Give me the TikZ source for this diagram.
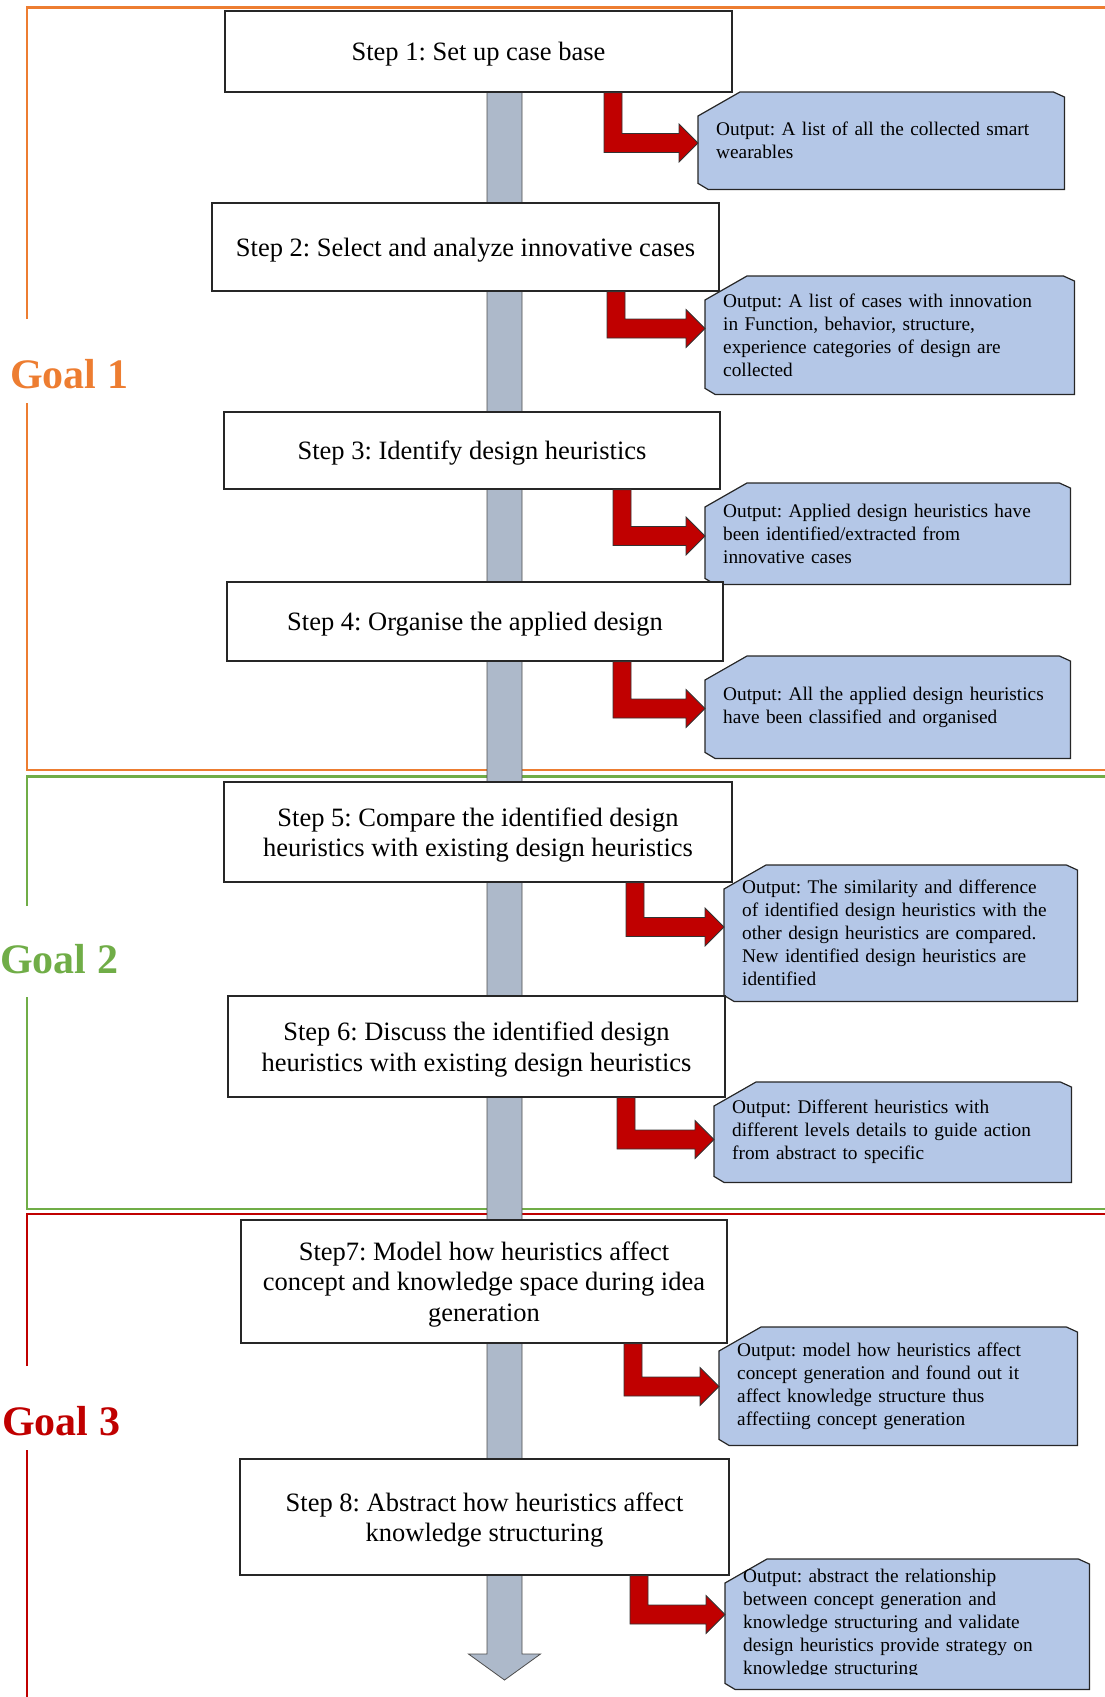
\documentclass[tikz,border=0pt]{standalone}
\usepackage{fontspec}
\setmainfont{Liberation Serif}
\usetikzlibrary{calc,backgrounds}
\frenchspacing

\definecolor{goalorange}{HTML}{ED7D31}
\definecolor{goalgreen}{HTML}{70AD47}
\definecolor{goalred}{HTML}{C00000}
\definecolor{flowgray}{HTML}{ADB9CA}
\definecolor{outblue}{HTML}{B4C7E7}

\newcommand\outshape[1]{%
  \begin{scope}[on background layer]
    \draw[outline] ($(#1.north west)+(0,24)$) -- ($(#1.north west)+(42,0)$)
      -- ($(#1.north east)+(-11,0)$) -- ($(#1.north east)+(0,5)$)
      -- (#1.south east) -- ($(#1.south west)+(10,0)$)
      -- ($(#1.south west)+(0,-6)$) -- cycle;
  \end{scope}}

\newcommand\outarrow[4]{%
  \coordinate (v) at (#2,#4);
  \coordinate (h) at (#3.west |- v);
  \draw[bent] (v |- #1.south) -- ($(v |- #1.south)+(18,0)$) -- ($(v)+(18,-9.5)$)
    -- ($(h)+(-19,-9.5)$) -- ($(h)+(-19,-19)$) -- (h) -- ($(h)+(-19,19)$)
    -- ($(h)+(-19,9.5)$) -- ($(v)+(0,9.5)$) -- cycle;}

\begin{document}
\begin{tikzpicture}
[x=1pt,y=-1pt,
  stepbox/.style={draw=black!85,fill=white,line width=1.2pt,align=center,inner sep=0pt,%
    text depth=-3pt,font=\fontsize{26.5}{30.5}\selectfont},%
  outbox/.style={align=left,inner xsep=18pt,inner ysep=0pt,anchor=north west,%
    font=\fontsize{19.3}{23}\selectfont},%
  boxsize/.style 2 args={minimum width=#1pt,minimum height=#2pt},%
  outline/.style={draw=black!85,fill=outblue,line width=1.2pt},%
  bent/.style={draw=black!80,fill=goalred,line width=0.8pt},%
  flow/.style={draw=black!70,fill=flowgray,line width=0.8pt},%
  goal/.style={anchor=base west,inner sep=0pt,font=\fontsize{42}{48}\selectfont\bfseries},%
  frame/.style={line width=2.7pt}]
\useasboundingbox (0,0) rectangle (1105,1697);

\draw[frame,goalorange] (27,319) -- (27,7.6) -- (1110,7.6);
\draw[frame,goalorange] (27,403) -- (27,770) -- (1110,770);
\draw[frame,goalgreen] (27,906) -- (27,776.7) -- (1110,776.7);
\draw[frame,goalgreen] (27,997) -- (27,1209) -- (1110,1209);
\draw[frame,goalred] (27,1366) -- (27,1214) -- (1110,1214);
\draw[frame,goalred] (27,1450) -- (27,1700);

\node[goal,text=goalorange] (g1) at (10,388) {Goal 1};
\node[goal,text=goalgreen] (g2) at (0,973) {Goal 2};
\node[goal,text=goalred] (g3) at (2,1435) {Goal 3};

\coordinate (tip) at (504.5,1680);
\coordinate (top) at (504.5,92);
\draw[flow] ($(top)+(-17.5,0)$) -- ($(tip)+(-17.5,-26)$) -- ($(tip)+(-36,-26)$) -- (tip)
  -- ($(tip)+(36,-26)$) -- ($(tip)+(17.5,-26)$) -- ($(top)+(17.5,0)$) -- cycle;

\node[stepbox,boxsize={507}{81}] (s1) at (478.5,51.5) {Step 1: Set up case base};
\node[stepbox,boxsize={507}{88}] (s2) at (465.5,247) {Step 2: Select and analyze innovative cases};
\node[stepbox,boxsize={496}{77}] (s3) at (472,450.5) {Step 3: Identify design heuristics};
\node[stepbox,boxsize={496}{79}] (s4) at (475,621.5) {Step 4: Organise the applied design};
\node[stepbox,boxsize={508}{100}] (s5) at (478,832) {Step 5: Compare the identified design\\heuristics with existing design heuristics};
\node[stepbox,boxsize={497}{101}] (s6) at (476.5,1046.5) {Step 6: Discuss the identified design\\heuristics with existing design heuristics};
\node[stepbox,boxsize={486}{123}] (s7) at (484,1281.5) {Step7: Model how heuristics affect\\concept and knowledge space during idea\\generation};
\node[stepbox,boxsize={489}{116}] (s8) at (484.5,1517) {Step 8: Abstract how heuristics affect\\knowledge structuring};

\node[outbox,boxsize={366}{97},text width=330pt] (o1) at (698,92)
  {Output: A list of all the collected smart\\wearables};
\node[outbox,boxsize={369}{118},text width=333pt] (o2) at (705,276)
  {Output: A list of cases with innovation\\in Function, behavior, structure,\\experience categories of design are\\collected};
\node[outbox,boxsize={365}{101},text width=329pt] (o3) at (705,483)
  {Output: Applied design heuristics have\\been identified/extracted from\\innovative cases};
\node[outbox,boxsize={365}{102},text width=329pt] (o4) at (705,656)
  {Output: All the applied design heuristics\\have been classified and organised};
\node[outbox,boxsize={353}{136},text width=317pt] (o5) at (724,865)
  {Output: The similarity and difference\\of identified design heuristics with the\\other design heuristics are compared.\\New identified design heuristics are\\identified};
\node[outbox,boxsize={357}{100},text width=321pt] (o6) at (714,1082)
  {Output: Different heuristics with\\different levels details to guide action\\from abstract to specific};
\node[outbox,boxsize={358}{118},text width=322pt] (o7) at (719,1327)
  {Output: model how heuristics affect\\concept generation and found out it\\affect knowledge structure thus\\affectiing concept generation};
\begin{scope}
\clip (700,1540) rectangle (1100,1674);
\node[outbox,boxsize={364}{130},text width=328pt,yshift=-4pt] (o8) at (725,1555)
  {Output: abstract the relationship\\between concept generation and\\knowledge structuring and validate\\design heuristics provide strategy on\\knowledge structuring};
\end{scope}

\outshape{o1}
\outshape{o2}
\outshape{o3}
\outshape{o4}
\outshape{o5}
\outshape{o6}
\outshape{o7}
\outshape{o8}

\outarrow{s1}{604}{o1}{143}
\outarrow{s2}{607}{o2}{328.5}
\outarrow{s3}{613}{o3}{536}
\outarrow{s4}{613}{o4}{708.5}
\outarrow{s5}{626}{o5}{927}
\outarrow{s6}{617}{o6}{1139.5}
\outarrow{s7}{624}{o7}{1386.5}
\outarrow{s8}{630}{o8}{1614.5}
\end{tikzpicture}
\end{document}
